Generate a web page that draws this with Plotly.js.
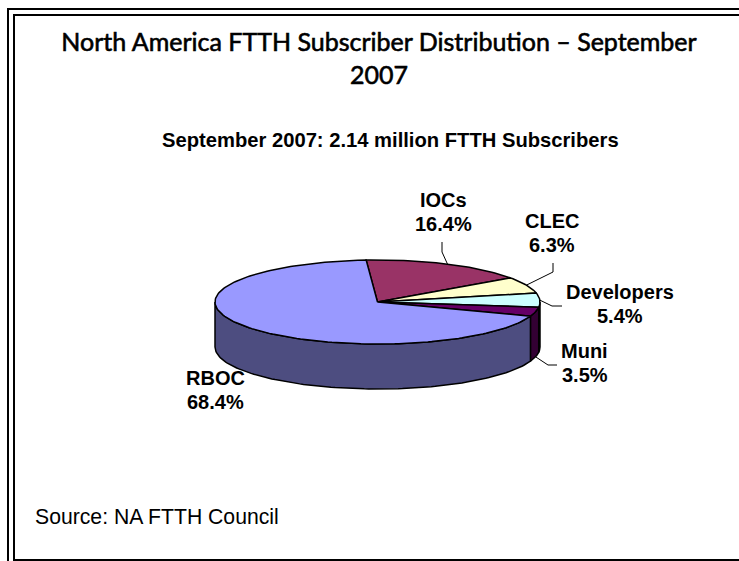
<!DOCTYPE html>
<html>
<head>
<meta charset="utf-8">
<script src="https://cdn.plot.ly/plotly-3.0.1.min.js"></script>
<style>
html,body{margin:0;padding:0;background:#fff}
#chart{width:739px;height:561px}
/* Lato has no medium cut here, so the heading gets a fine outline */
.gtitle{stroke:#000;stroke-width:.6px;font-variant-ligatures:none}
</style>
</head>
<body>
<div id="chart"></div>
<script>
// FTTH subscriber shares, clockwise from the back of the pie
const categories = ['IOCs', 'CLEC', 'Developers', 'Muni', 'RBOC'];
const shares = [16.4, 6.3, 5.4, 3.5, 68.4];
const topColors = ['#993366', '#FFFFCC', '#CCFFFF', '#660066', '#9999FF'];
const wallColors = ['#4D1933', '#808066', '#668080', '#330033', '#4D4D80'];

const titleText = 'North America FTTH Subscriber Distribution – September<br>2007';
const subtitleText = 'September 2007: 2.14 million FTTH Subscribers';
const sourceText = 'Source: NA FTTH Council';

// Page geometry in pixels
const W = 739, H = 561;
const CX = 377.5, CY = 302, RX = 162.5, RY = 42, DEPTH = 45;
const START_ANGLE = -4;
const SANS = 'Liberation Sans, Arial, sans-serif';

// Label centres and leader elbows in pixels, per category
const labelPos = [[443.5, 212], [552, 233], [619.5, 304], [584.5, 363], [215, 390]];
const LINE_GAP = 12;
const leaderElbows = [
  [[442, 242], [442, 252]],
  [[553, 263], [553, 272]],
  [[562, 306], [552, 306]],
  [[557, 365], [548, 365]],
  null
];

const tilt = RY / RX, drop = DEPTH / RX;
const rad = d => d * Math.PI / 180;
const rimX = a => Math.sin(rad(a));
const rimY = (a, z) => Math.cos(rad(a)) * tilt - z;

function arc(from, to, z) {
  const n = Math.max(2, Math.ceil(Math.abs(to - from) / 1.5));
  const xs = [], ys = [];
  for (let i = 0; i <= n; i++) {
    const a = from + (to - from) * i / n;
    xs.push(rimX(a));
    ys.push(rimY(a, z));
  }
  return [xs, ys];
}

function polygon(x, y, fill) {
  return {
    type: 'scatter', mode: 'lines', x, y, fill: 'toself', fillcolor: fill,
    line: {color: '#000', width: 1.5}, hoverinfo: 'skip', showlegend: false
  };
}

// Slice angles follow from the shares
const spans = [];
let cursor = START_ANGLE;
shares.forEach(s => {
  spans.push([cursor, cursor + s * 3.6]);
  cursor += s * 3.6;
});

const walls = [], faces = [];
spans.forEach(([a, b], i) => {
  // Only the front half of the rim faces the viewer
  const lo = Math.max(a, 90), hi = Math.min(b, 270);
  if (hi > lo) {
    const [tx, ty] = arc(lo, hi, 0);
    const [bx, by] = arc(hi, lo, drop);
    walls.push(polygon(tx.concat(bx, tx[0]), ty.concat(by, ty[0]), wallColors[i]));
  }
  const [fx, fy] = arc(a, b, 0);
  faces.push(polygon([0].concat(fx, 0), [0].concat(fy, 0), topColors[i]));
});

// Leader lines end on the rim at each slice's middle angle
const leaders = [];
spans.forEach(([a, b], i) => {
  if (!leaderElbows[i]) return;
  const mid = (a + b) / 2;
  const z = mid > 90 && mid < 270 ? drop : 0;
  const px = leaderElbows[i].map(p => (p[0] - CX) / RX);
  const py = leaderElbows[i].map(p => (CY - p[1]) / RX);
  leaders.push({
    type: 'scatter', mode: 'lines',
    x: px.concat(rimX(mid)), y: py.concat(rimY(mid, z)),
    line: {color: '#000', width: 1}, hoverinfo: 'skip', showlegend: false
  });
});

const px2x = x => x / W, px2y = y => 1 - y / H;
const frameLine = (x0, y0, x1, y1) => ({
  type: 'line', xref: 'paper', yref: 'paper',
  x0: px2x(x0), y0: px2y(y0), x1: px2x(x1), y1: px2y(y1),
  line: {color: '#000', width: 2}
});

const textNote = (x, y, text, size, anchor) => ({
  xref: 'paper', yref: 'paper', showarrow: false,
  x: px2x(x), y: px2y(y), xanchor: anchor, yanchor: 'middle', align: 'center',
  text, font: {family: SANS, size, color: '#000'}
});

const annotations = [];
categories.forEach((name, i) => {
  const [x, y] = labelPos[i];
  annotations.push(textNote(x, y - LINE_GAP, '<b>' + name + '</b>', 20, 'center'));
  annotations.push(textNote(x, y + LINE_GAP, '<b>' + shares[i].toFixed(1) + '%</b>', 20, 'center'));
});
annotations.push(textNote(391, 140, '<b>' + subtitleText + '</b>', 20.2, 'center'));
annotations.push(textNote(33, 516, sourceText, 21.2, 'left'));

const layout = {
  width: W, height: H,
  margin: {l: 0, r: 0, t: 0, b: 0},
  paper_bgcolor: '#fff', plot_bgcolor: '#fff',
  showlegend: false,
  title: {
    text: titleText,
    font: {family: 'Lato, sans-serif', size: 25, color: '#000'},
    x: 379 / W, xanchor: 'center', y: 1 - 51 / H, yanchor: 'top'
  },
  xaxis: {visible: false, range: [-CX / RX, (W - CX) / RX], fixedrange: true},
  yaxis: {visible: false, range: [(CY - H) / RX, CY / RX], fixedrange: true},
  shapes: [
    frameLine(8, 9, 8, H), frameLine(7, 9, W, 9),
    frameLine(14, 15, 14, H), frameLine(13, 15, W, 15),
    frameLine(14, 560, W, 560)
  ],
  annotations
};

Plotly.newPlot('chart', walls.concat(faces, leaders), layout, {displayModeBar: false, staticPlot: true});
</script>
</body>
</html>
